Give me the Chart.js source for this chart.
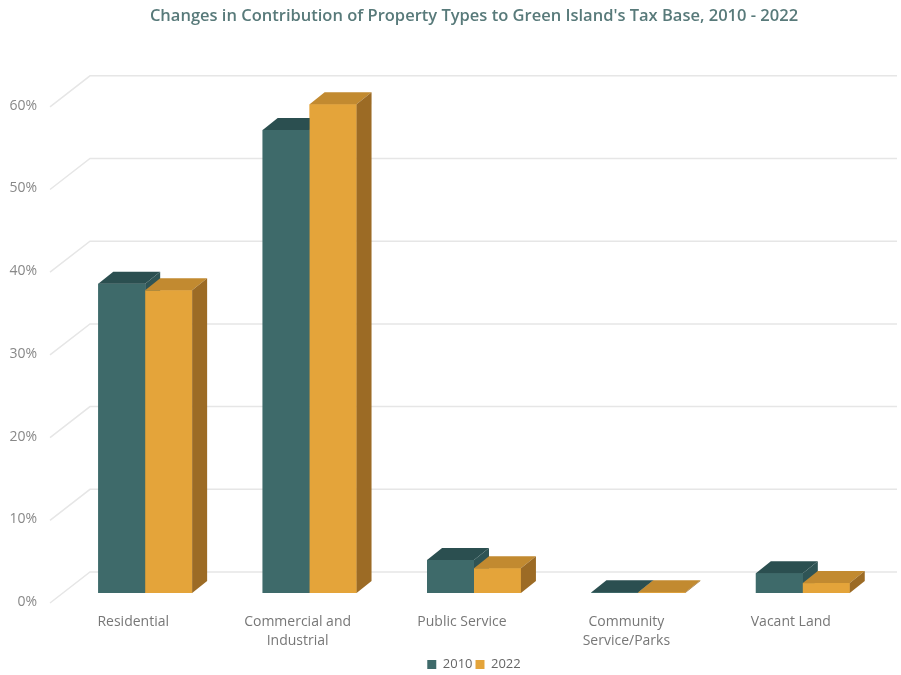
<!DOCTYPE html>
<html>
<head>
<meta charset="utf-8">
<title>Green Island Tax Base</title>
<script src="https://cdn.jsdelivr.net/npm/chart.js@4.4.1/dist/chart.umd.min.js"></script>
<style>
  html, body { margin: 0; padding: 0; background: #fff; }
  #wrap { width: 901px; height: 675px; }
</style>
</head>
<body>
<div id="wrap"><canvas id="taxChart"></canvas></div>
<script>
const categories = ['Residential', ['Commercial and', 'Industrial'], 'Public Service', ['Community', 'Service/Parks'], 'Vacant Land'];
const share2010 = [37.4, 56.0, 4.0, 0.1, 2.4];
const share2022 = [36.6, 59.1, 3.0, 0.1, 1.2];
const yTicks = [0, 10, 20, 30, 40, 50, 60];

// depth of the extruded bars
const DX = 15, DY = 12;
const shades = [
  { front: '#3e6a6a', top: '#2b4f50', side: '#2f5455' },
  { front: '#e4a43a', top: '#c28a30', side: '#9c6b25' }
];

// floor/back-wall gridlines drawn in oblique perspective
const floorGrid = {
  id: 'floorGrid',
  beforeDatasetsDraw(chart) {
    const { ctx, chartArea, scales: { y } } = chart;
    ctx.save();
    ctx.strokeStyle = '#e6e6e6';
    ctx.lineWidth = 1.5;
    y.ticks.forEach(t => {
      const py = y.getPixelForValue(t.value);
      ctx.beginPath();
      ctx.moveTo(chartArea.left - 13, py + 10);
      ctx.lineTo(chartArea.left + 27, py - 21);
      ctx.lineTo(chartArea.right + 12, py - 21);
      ctx.stroke();
    });
    ctx.restore();
  }
};

// repaint every bar as a box: front, top and side faces,
// category by category so the 2022 box covers the 2010 side face
const extrude = {
  id: 'extrude',
  afterDatasetsDraw(chart) {
    const ctx = chart.ctx;
    const metas = chart.data.datasets.map((d, i) => chart.getDatasetMeta(i));
    ctx.save();
    categories.forEach((c, j) => {
      metas.forEach((meta, i) => {
        const s = shades[i];
        const { x, y, base, width } = meta.data[j].getProps(['x', 'y', 'base', 'width'], true);
        const l = x - width / 2, r = x + width / 2;
        ctx.fillStyle = s.front;
        ctx.fillRect(l, y, width, base - y);
        ctx.fillStyle = s.top;
        ctx.beginPath();
        ctx.moveTo(l, y);
        ctx.lineTo(l + DX, y - DY);
        ctx.lineTo(r + DX, y - DY);
        ctx.lineTo(r, y);
        ctx.closePath();
        ctx.fill();
        ctx.fillStyle = s.side;
        ctx.beginPath();
        ctx.moveTo(r, y);
        ctx.lineTo(r + DX, y - DY);
        ctx.lineTo(r + DX, base - DY);
        ctx.lineTo(r, base);
        ctx.closePath();
        ctx.fill();
      });
    });
    ctx.restore();
  }
};

const font = "'Open Sans', sans-serif";

new Chart(document.getElementById('taxChart'), {
  type: 'bar',
  data: {
    labels: categories,
    datasets: [
      { label: '2010', data: share2010, backgroundColor: shades[0].front },
      { label: '2022', data: share2022, backgroundColor: shades[1].front }
    ]
  },
  options: {
    responsive: true,
    maintainAspectRatio: false,
    animation: false,
    categoryPercentage: 0.571,
    barPercentage: 1,
    layout: { padding: { left: 0, right: 16, top: 0, bottom: 0 } },
    scales: {
      x: {
        grid: { display: false, drawTicks: false },
        border: { display: false },
        ticks: {
          color: '#777',
          padding: 20,
          labelOffset: -12,
          maxRotation: 0,
          font: { family: font, size: 14, lineHeight: 1.35 }
        },
        afterFit(scale) { scale.height = 62; }
      },
      y: {
        min: 0,
        max: 60,
        grid: { display: false, drawTicks: false },
        border: { display: false },
        afterBuildTicks(scale) { scale.ticks = yTicks.map(v => ({ value: v })); },
        ticks: {
          color: '#888',
          padding: 26,
          labelOffset: 9,
          font: { family: font, size: 14 },
          callback: v => v + '%'
        },
        afterFit(scale) { scale.width = 63; }
      }
    },
    plugins: {
      title: {
        display: true,
        fullSize: false,
        text: "Changes in Contribution of Property Types to Green Island's Tax Base, 2010 - 2022",
        color: '#587a7a',
        padding: { top: 6, bottom: 71 },
        font: { family: font, size: 16.5, weight: 600 }
      },
      legend: {
        position: 'bottom',
        fullSize: false,
        maxHeight: 20,
        labels: {
          color: '#666',
          boxWidth: 9,
          boxHeight: 9,
          padding: 3,
          font: { family: font, size: 13 }
        }
      },
      tooltip: { enabled: false }
    }
  },
  plugins: [floorGrid, extrude]
});
</script>
</body>
</html>
